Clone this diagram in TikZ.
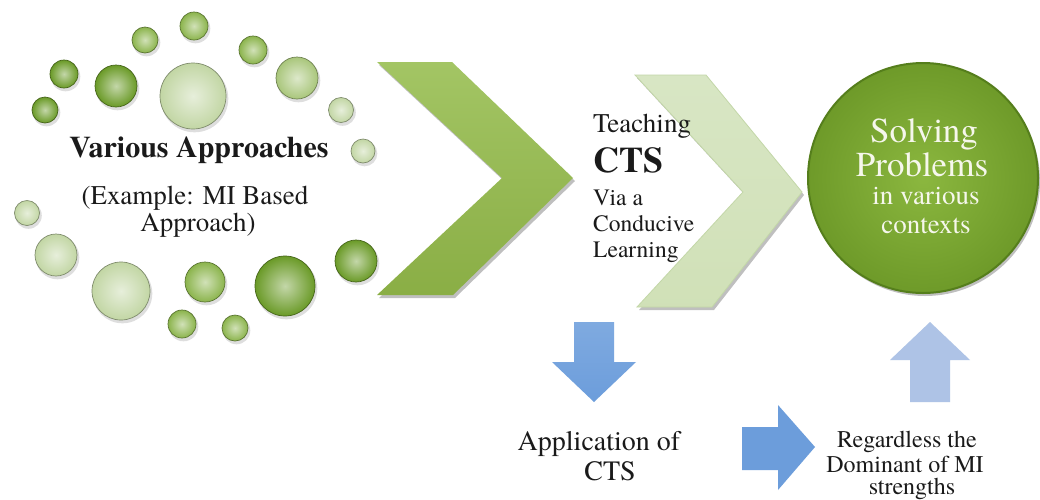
\documentclass[tikz,border=0pt]{standalone}
\usepackage{fontspec}
\setmainfont{texgyretermes}[Extension=.otf, UprightFont=*-regular, BoldFont=*-bold, ItalicFont=*-italic, BoldItalicFont=*-bolditalic]
\usetikzlibrary{shadows}

\definecolor{beaddark}{HTML}{6A9A27}
\definecolor{beadmid}{HTML}{8BB44C}
\definecolor{beadlight}{HTML}{A9C67B}
\definecolor{beadpale}{HTML}{C2D6A4}
\definecolor{chevtop}{HTML}{A3C564}
\definecolor{chevbot}{HTML}{8AAE45}
\definecolor{chevpale}{HTML}{D8E6C4}
\definecolor{chevpaleedge}{HTML}{C3D7A8}
\definecolor{goalin}{HTML}{8BB73F}
\definecolor{goalout}{HTML}{6E9A29}
\definecolor{goalrim}{HTML}{557E1C}
\definecolor{arrowblue}{HTML}{6C9DDB}
\definecolor{arrowbluetop}{HTML}{7FAAE0}
\definecolor{arrowpale}{HTML}{AEC3E6}
\definecolor{inktext}{HTML}{1A1A1A}
\definecolor{goaltext}{HTML}{F6F7EC}

\newcommand{\fs}[1]{\fontsize{#1}{#1}\selectfont}

\begin{document}
\begin{tikzpicture}[x=1pt,y=-1pt,
  bead/.style={inner color=#1!40!white, outer color=#1, draw=#1!65!black, line width=0.7pt},
  beadshadow/.style={fill=black, opacity=0.13},
  txt/.style={inner sep=0pt, text=inktext, anchor=base},
  ltxt/.style={inner sep=0pt, text=inktext, anchor=base west},
  gtxt/.style={inner sep=0pt, text=goaltext, anchor=base},
  softshadow/.style={drop shadow={shadow xshift=2pt, shadow yshift=-3pt, opacity=0.25, fill=black}}
]
\useasboundingbox (0,0) rectangle (1040,499);
\fill[white] (0,0) rectangle (1040,499);

% ring of glossy beads around the first block of text
\foreach \x/\y/\r/\c in {
  194/26/14/beadmid, 145/40/13/beadmid, 253/50/14/beadmid,
  64/74/14/beaddark, 116/86/21/beaddark, 193/96/33/beadpale,
  297/78/21/beadlight, 45/110/13/beaddark, 341/110/12.5/beadpale,
  363/151/12/beadpale, 27/213/12.5/beadpale, 56/255/21/beadpale,
  121/291/29/beadpale, 205/282/20/beadmid, 285/286/30/beaddark,
  356/261/21/beaddark, 182/324/14/beadmid, 235/328/13/beadmid}{
  \fill[beadshadow] (\x+1.5,\y+2.5) circle[radius=\r+0.8];
  \shade[bead=\c] (\x,\y) circle[radius=\r];
}

% large chevron
\shade[top color=chevtop, bottom color=chevbot, softshadow]
  (377,62) -- (452,62) -- (573,178) -- (453,295) -- (377,295) -- (502,178) -- cycle;

% pale chevron
\shade[top color=chevpale, bottom color=chevpale!90!chevbot, draw=chevpaleedge, line width=0.8pt, softshadow]
  (635,75) -- (706,75) -- (802,192) -- (712,307) -- (637,307) -- (743,192) -- cycle;

% goal disc
\node[circle, minimum size=230pt, inner sep=0pt, draw=goalrim, line width=2pt,
      inner color=goalin, outer color=goalout, softshadow] (goal) at (923,178) {};

% blue arrows
\shade[top color=arrowbluetop, bottom color=arrowblue]
  (574,322) -- (614,322) -- (614,362) -- (636,362) -- (594,402) -- (552,362) -- (574,362) -- cycle;
\fill[arrowblue]
  (742,427) -- (778,427) -- (778,405) -- (815,447) -- (778,490) -- (778,470) -- (742,470) -- cycle;
\fill[arrowpale]
  (910,402) -- (910,360) -- (890,360) -- (930,322) -- (970,360) -- (950,360) -- (950,402) -- cycle;

% texts of the approaches block
\node[txt, font=\fs{30}\bfseries] (va) at (199,157) {Various Approaches};
\node[txt, font=\fs{27}] (vb) at (195,204) {(Example: MI Based};
\node[txt, font=\fs{27}] (vc) at (198,231) {Approach)};

% texts of the teaching block
\node[ltxt, font=\fs{27}] (ta) at (593,132) {Teaching};
\node[ltxt, font=\fs{36}\bfseries] (tb) at (593,172) {CTS};
\node[ltxt, font=\fs{23.5}] (tc) at (593,205) {Via a};
\node[ltxt, font=\fs{23.5}] (td) at (593,231) {Conducive};
\node[ltxt, font=\fs{23.5}] (te) at (593,257) {Learning};

% texts on the goal disc
\node[gtxt, font=\fs{35}] (ga) at (924,142) {Solving};
\node[gtxt, font=\fs{35}] (gb) at (922,176) {Problems};
\node[gtxt, font=\fs{27}] (gc) at (926,204) {in various};
\node[gtxt, font=\fs{27}] (gd) at (926,233) {contexts};

% texts below
\node[txt, font=\fs{28}] (aa) at (599,450) {Application of};
\node[txt, font=\fs{28}] (ab) at (610,480) {CTS};
\node[txt, font=\fs{24}] (ra) at (907,447) {Regardless the};
\node[txt, font=\fs{24}] (rb) at (905,472) {Dominant of MI};
\node[txt, font=\fs{24}] (rc) at (912,494) {strengths};
\end{tikzpicture}
\end{document}
